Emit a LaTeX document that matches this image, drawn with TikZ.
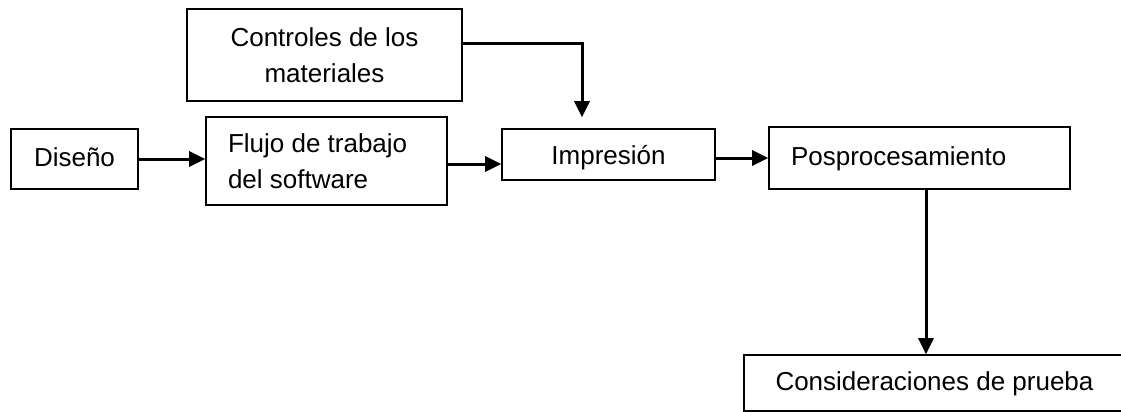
\documentclass[tikz,border=0pt]{standalone}
\usepackage{fontspec}
\setmainfont{Liberation Sans}
\usetikzlibrary{arrows.meta}
\begin{document}
\begin{tikzpicture}[x=0.5pt, y=-0.5pt,
    box/.style = {draw, line width=0.8pt, inner sep=0pt, font=\fontsize{13}{18}\selectfont},
    line/.style = {text height=9.5pt, text depth=2.5pt},
    flow/.style = {-{Triangle[length=8pt,width=7.5pt]}, line width=1.5pt}]
	\useasboundingbox (0,0) rectangle (1121,412);
	\node[box, line, minimum width=63.5pt, minimum height=30pt] (dis) at (74.5,159) {Diseño};
	\node[box, minimum width=137.5pt, minimum height=46pt, align=center] (con) at (324.5,55) {Controles de los\\materiales};
	\node[box, minimum width=120.5pt, minimum height=44pt, text width=98.5pt, align=flush left] (flu) at (326.5,161) {Flujo de trabajo\\del software};
	\node[box, line, text height=12pt, minimum width=106.5pt, minimum height=25.5pt] (imp) at (608.5,154.5) {Impresión};
	\node[box, line, minimum width=150.5pt, minimum height=31pt, text width=128.5pt, align=flush left] (pos) at (919.5,158) {Posprocesamiento};
	\node[box, line, minimum width=190.5pt, minimum height=28pt] (cons) at (934.5,383) {Consideraciones de prueba};
	\draw[flow] (dis.east) -- (dis.east -| flu.west);
	\draw[flow] ([yshift=-1.5pt]flu.east) -- ([yshift=-1.5pt]flu.east -| imp.west);
	\draw[flow] (pos.west -| imp.east) -- (pos.west);
	\draw[flow] ([yshift=6pt]con.east) -| ([xshift=-13.25pt, yshift=5.5pt]imp.north);
	\draw[flow] ([xshift=3.25pt]pos.south) -- ([xshift=3.25pt]pos.south |- cons.north);
\end{tikzpicture}
\end{document}
